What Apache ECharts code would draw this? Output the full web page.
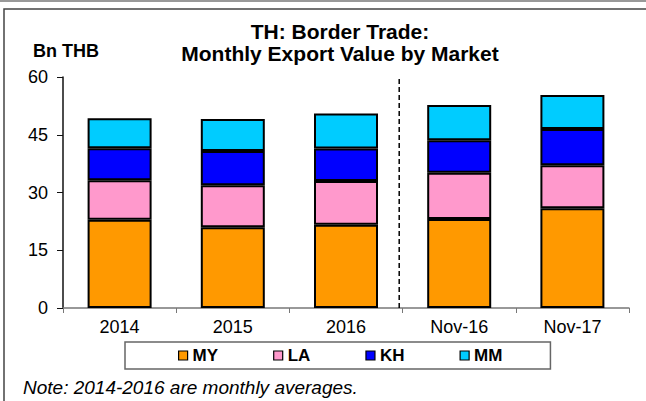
<!DOCTYPE html>
<html>
<head>
<meta charset="utf-8">
<script src="https://cdn.jsdelivr.net/npm/echarts@6/dist/echarts.min.js"></script>
<style>
  html, body { margin: 0; padding: 0; background: #fff; }
  #chart { width: 646px; height: 401px; }
</style>
</head>
<body>
<div id="chart"></div>
<script>
// categories and stacked values, Bn THB
const categories = ["2014", "2015", "2016", "Nov-16", "Nov-17"];
const seriesNames = ["MY", "LA", "KH", "MM"];
const my = [22.9, 21.0, 21.6, 23.1, 25.9];
const la = [10.3, 10.9, 11.4, 12.0, 11.2];
const kh = [8.3, 8.9, 8.4, 8.5, 9.4];
const mm = [7.8, 8.3, 9.1, 9.1, 8.8];
const yTicks = [0, 15, 30, 45, 60];
// dashed separator between the yearly averages and the monthly bars
const dividerAt = 2.47;

const FONT = 'Arial, "Liberation Sans", sans-serif';
const colors = ["#FF9900", "#FF99CC", "#0000FF", "#00CCFF"];

const chart = echarts.init(document.getElementById("chart"), null, { renderer: "svg" });

function barSeries(name, values, color) {
  return {
    name: name,
    type: "bar",
    stack: "total",
    barWidth: 64,
    itemStyle: { color: color, borderColor: "#000", borderWidth: 2 },
    data: values
  };
}

const option = {
  animation: false,
  textStyle: { fontFamily: FONT },
  grid: { left: 63, right: 17, top: 77, bottom: 93 },
  legend: {
    data: seriesNames,
    left: 125,
    top: 342,
    orient: "horizontal",
    icon: "rect",
    itemWidth: 9,
    itemHeight: 9,
    itemGap: 55,
    padding: [5, 48, 5, 53],
    backgroundColor: "#fff",
    borderColor: "#666",
    borderWidth: 1.5,
    borderRadius: 0,
    itemStyle: { borderColor: "#000", borderWidth: 1.2 },
    textStyle: { fontFamily: FONT, fontSize: 17, fontWeight: "bold", color: "#000" }
  },
  xAxis: [
    {
      type: "category",
      data: categories,
      axisLine: { lineStyle: { color: "#777", width: 1.5 } },
      axisTick: { show: true, length: 5, lineStyle: { color: "#777" } },
      axisLabel: { color: "#000", fontSize: 18, fontFamily: FONT, margin: 10 }
    },
    {
      type: "value",
      min: -0.5,
      max: categories.length - 0.5,
      show: false
    }
  ],
  yAxis: {
    type: "value",
    min: yTicks[0],
    max: yTicks[yTicks.length - 1],
    interval: yTicks[1] - yTicks[0],
    splitLine: { show: false },
    axisLine: { show: true, onZero: false, lineStyle: { color: "#111", width: 1.5 } },
    axisTick: { show: true, length: 6, lineStyle: { color: "#111" } },
    axisLabel: { color: "#000", fontSize: 18, fontFamily: FONT, margin: 15 }
  },
  series: [
    barSeries("MY", my, colors[0]),
    barSeries("LA", la, colors[1]),
    barSeries("KH", kh, colors[2]),
    barSeries("MM", mm, colors[3]),
    {
      name: "divider",
      type: "line",
      xAxisIndex: 1,
      symbol: "none",
      silent: true,
      lineStyle: { color: "#000", width: 1.5, type: [5, 3] },
      data: [[dividerAt, yTicks[0]], [dividerAt, 59.5]]
    }
  ],
  graphic: [
    // frame around the chart
    { type: "rect", shape: { x: 0, y: 0, width: 646, height: 2 }, style: { fill: "#999" }, silent: true },
    { type: "rect", shape: { x: 4, y: 9, width: 660, height: 420 }, style: { fill: "none", stroke: "#444", lineWidth: 1.5 }, silent: true },
    {
      type: "text",
      style: { x: 340, y: 31, text: "TH: Border Trade:", textAlign: "center", textVerticalAlign: "middle",
               font: "bold 21px " + FONT, fill: "#000" }
    },
    {
      type: "text",
      style: { x: 340, y: 53, text: "Monthly Export Value by Market", textAlign: "center", textVerticalAlign: "middle",
               font: "bold 21px " + FONT, fill: "#000" }
    },
    {
      type: "text",
      style: { x: 33, y: 51, text: "Bn THB", textAlign: "left", textVerticalAlign: "middle",
               font: "bold 18px " + FONT, fill: "#000" }
    },
    {
      type: "text",
      style: { x: 23, y: 387, text: "Note: 2014-2016 are monthly averages.", textAlign: "left", textVerticalAlign: "middle",
               font: "italic 19px " + FONT, fill: "#000" }
    }
  ]
};

chart.setOption(option);
window.onresize = chart.resize;
</script>
</body>
</html>
